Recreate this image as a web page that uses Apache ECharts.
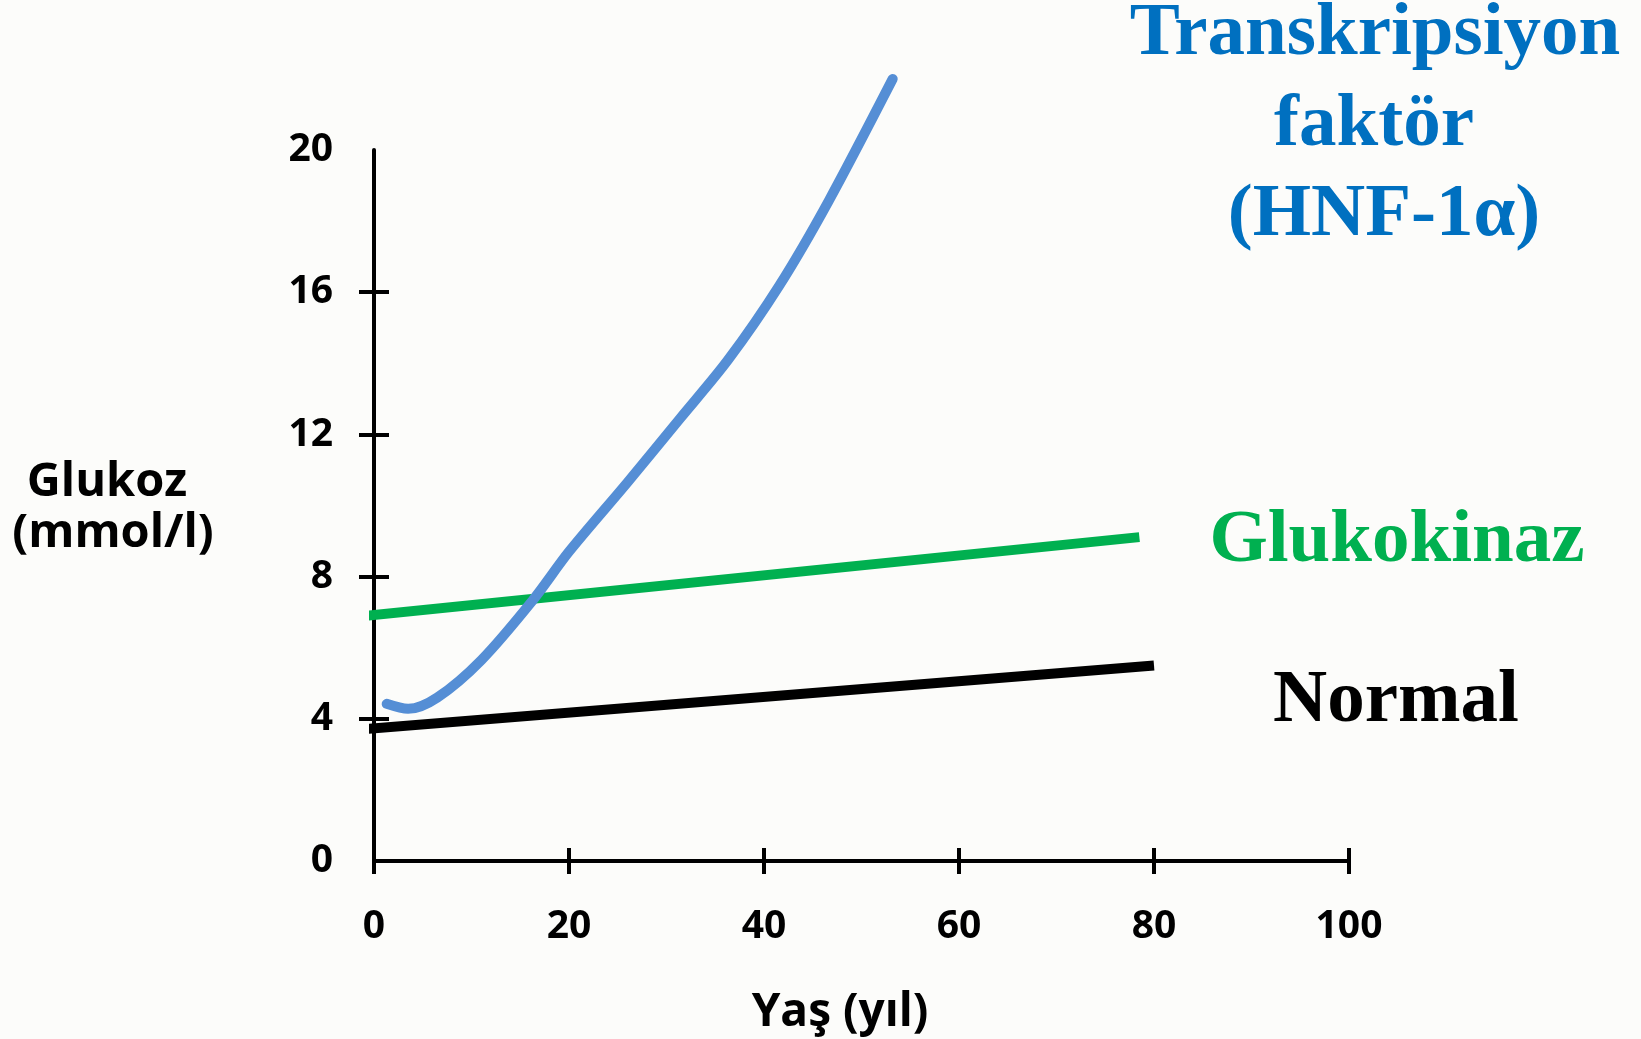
<!DOCTYPE html>
<html>
<head>
<meta charset="utf-8">
<script src="https://cdn.jsdelivr.net/npm/echarts@6/dist/echarts.min.js"></script>
<style>
html,body{margin:0;padding:0;background:#fcfcfa;}
#c{width:1641px;height:1039px;}
</style>
</head>
<body>
<div id="c"></div>
<script>
// ---- data ----
const xTickValues = [0, 20, 40, 60, 80, 100];
const yTickValues = [0, 4, 8, 12, 16, 20];
const yInnerTicks = [4, 8, 12, 16];

const normalAge = [-1.5, 80];
const normalGlucose = [3.7, 5.5];

const gkAge = [-1.5, 78.5];
const gkGlucose = [6.88, 9.11];

const hnfAge = [1.3, 3.5, 6.5, 11, 16.3, 20, 26, 31.4, 36.3, 41.6, 46.6, 53.2];
const hnfGlucose = [4.42, 4.28, 4.6, 5.65, 7.34, 8.7, 10.65, 12.45, 14.09, 16.2, 18.55, 22.0];

const xTitle = 'Yaş (yıl)';
const yTitleLines = ['Glukoz', '(mmol/l)'];
const hnfLabel = ['Transkripsiyon', 'faktör', '(HNF-1α)'];
const gkLabel = 'Glukokinaz';
const normalLabel = 'Normal';

function pairs(a, b) { return a.map((v, i) => [v, b[i]]); }

const chart = echarts.init(document.getElementById('c'));
const tickFont = { fontFamily: 'Open Sans', fontWeight: 'bold', fontSize: 39, color: '#000' };
const serif = 'Liberation Serif';
const tickStyle = { color: '#000', width: 4 };

chart.setOption({
  backgroundColor: '#fcfcfa',
  animation: false,
  grid: { left: 374, right: 292, top: 150, bottom: 178, containLabel: false },
  xAxis: [
    {
      type: 'value', min: 0, max: 100, interval: 20, position: 'bottom',
      axisLine: { show: true, onZero: false, lineStyle: { color: '#000', width: 4 } },
      axisTick: { show: true, inside: false, length: 13, lineStyle: tickStyle },
      axisLabel: Object.assign({ margin: 66, verticalAlign: 'middle', customValues: xTickValues }, tickFont),
      splitLine: { show: false }
    },
    {
      type: 'value', min: 0, max: 100, interval: 20, position: 'bottom',
      axisLine: { show: false, onZero: false },
      axisTick: { show: true, inside: true, length: 13, lineStyle: tickStyle },
      axisLabel: { show: false },
      splitLine: { show: false }
    }
  ],
  yAxis: [
    {
      type: 'value', min: 0, max: 20, interval: 4, position: 'left',
      axisLine: { show: true, onZero: false, lineStyle: { color: '#000', width: 4 } },
      axisTick: { show: true, inside: false, length: 15, customValues: yInnerTicks, lineStyle: tickStyle },
      axisLabel: Object.assign({ margin: 41, customValues: yTickValues }, tickFont),
      splitLine: { show: false }
    },
    {
      type: 'value', min: 0, max: 20, interval: 4, position: 'left',
      axisLine: { show: false, onZero: false },
      axisTick: { show: true, inside: true, length: 15, customValues: yInnerTicks, lineStyle: tickStyle },
      axisLabel: { show: false },
      splitLine: { show: false }
    }
  ],
  series: [
    {
      name: 'Normal', type: 'line', clip: false, showSymbol: false, symbol: 'none',
      data: pairs(normalAge, normalGlucose),
      lineStyle: { color: '#000', width: 10, cap: 'butt' }, z: 3
    },
    {
      name: 'Glukokinaz', type: 'line', clip: false, showSymbol: false, symbol: 'none',
      data: pairs(gkAge, gkGlucose),
      lineStyle: { color: '#00b050', width: 10, cap: 'butt' }, z: 3
    },
    {
      name: 'HNF-1α', type: 'line', clip: false, showSymbol: false, symbol: 'none', smooth: 0.3,
      data: pairs(hnfAge, hnfGlucose),
      lineStyle: { color: '#558ed5', width: 10, cap: 'round', join: 'round' }, z: 4
    }
  ],
  graphic: [
    { type: 'text', x: 1375, y: 35, style: { text: hnfLabel[0], font: 'bold 75px "' + serif + '"', fill: '#0070c0', align: 'center', verticalAlign: 'middle' } },
    { type: 'text', x: 1374, y: 126, style: { text: hnfLabel[1], font: 'bold 75px "' + serif + '"', fill: '#0070c0', align: 'center', verticalAlign: 'middle' } },
    { type: 'text', x: 1384, y: 216, style: { text: hnfLabel[2], font: 'bold 75px "' + serif + '"', fill: '#0070c0', align: 'center', verticalAlign: 'middle' } },
    { type: 'text', x: 1397, y: 542, style: { text: gkLabel, font: 'bold 75px "' + serif + '"', fill: '#00b050', align: 'center', verticalAlign: 'middle' } },
    { type: 'text', x: 1396, y: 702, style: { text: normalLabel, font: 'bold 75px "' + serif + '"', fill: '#000', align: 'center', verticalAlign: 'middle' } },
    { type: 'text', x: 107, y: 483, style: { text: yTitleLines[0], font: 'bold 47px "Open Sans"', fill: '#000', align: 'center', verticalAlign: 'middle' } },
    { type: 'text', x: 113, y: 534, style: { text: yTitleLines[1], font: 'bold 47px "Open Sans"', fill: '#000', align: 'center', verticalAlign: 'middle' } },
    { type: 'text', x: 840, y: 1013, style: { text: xTitle, font: 'bold 46px "Open Sans"', fill: '#000', align: 'center', verticalAlign: 'middle' } }
  ]
});
</script>
</body>
</html>
